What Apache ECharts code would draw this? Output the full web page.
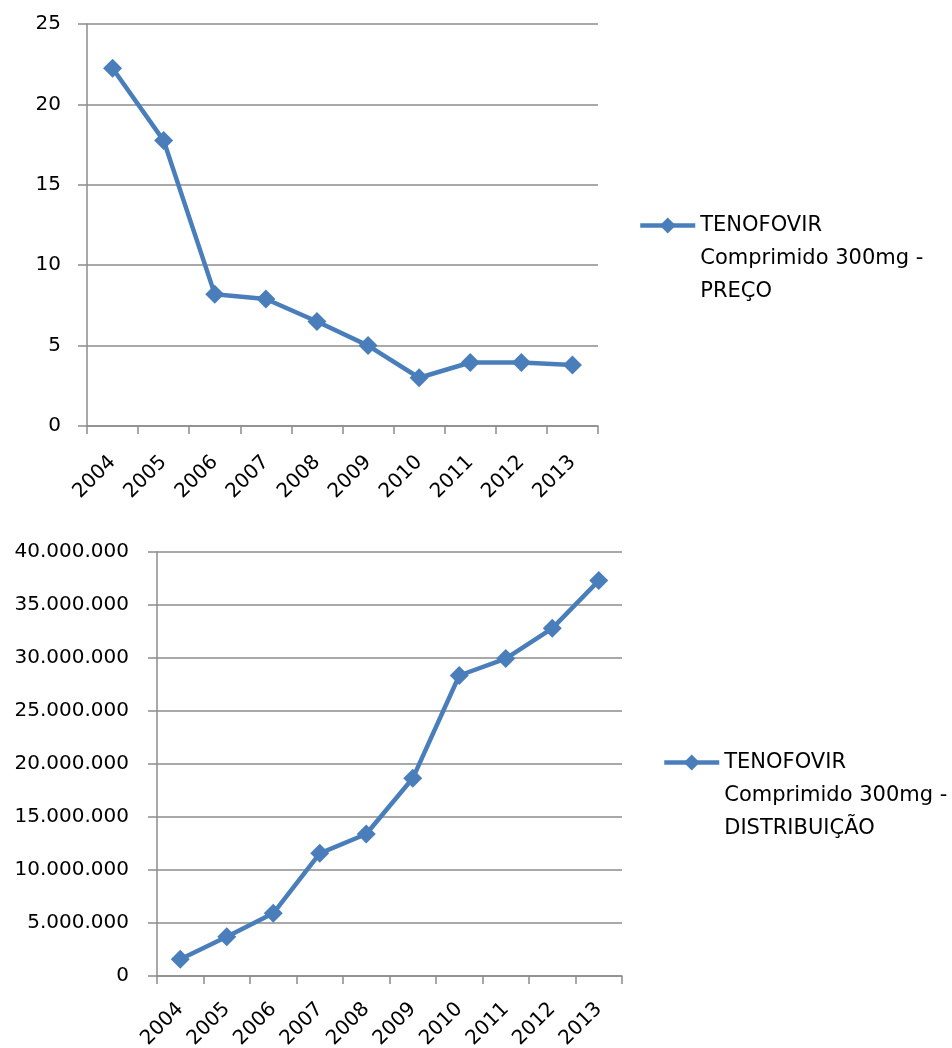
<!DOCTYPE html>
<html>
<head>
<meta charset="utf-8">
<script src="https://cdn.jsdelivr.net/npm/echarts@6/dist/echarts.min.js"></script>
<style>
  html, body { margin: 0; padding: 0; background: #fff; }
  #chart { width: 952px; height: 1048px; }
</style>
</head>
<body>
<div id="chart"></div>
<script>
// anos (eixo x dos dois gráficos)
const years = ['2004', '2005', '2006', '2007', '2008', '2009', '2010', '2011', '2012', '2013']
// preço unitário
const precoValues = [22.25, 17.75, 8.2, 7.9, 6.5, 5.0, 3.0, 3.95, 3.95, 3.8]
// quantidade distribuída
const distribValues = [1580000, 3710000, 5910000, 11570000, 13400000, 18650000, 28350000, 29950000, 32800000, 37300000]
const precoName = 'TENOFOVIR\nComprimido 300mg -\nPREÇO'
const distribName = 'TENOFOVIR\nComprimido 300mg -\nDISTRIBUIÇÃO'

const lineColor = '#4a7ebb'
const gridColor = '#8c8c8c'
const font = 'DejaVu Sans'

function thousands(v) {
  return String(v).replace(/\B(?=(\d{3})+(?!\d))/g, '.')
}

function xAxisFor(gridIndex, margin) {
  return {
    type: 'category',
    gridIndex: gridIndex,
    data: years,
    boundaryGap: true,
    axisLine: { lineStyle: { color: gridColor, width: 1.5 } },
    axisTick: { show: true, length: 8, alignWithLabel: false, lineStyle: { color: gridColor, width: 1.5 } },
    axisLabel: { rotate: 45, margin: margin, color: '#000', fontSize: 20, fontFamily: font, interval: 0 },
    splitLine: { show: false }
  }
}

function yAxisFor(gridIndex, max, interval, fmt, margin) {
  return {
    type: 'value',
    gridIndex: gridIndex,
    min: 0,
    max: max,
    interval: interval,
    axisLine: { show: true, lineStyle: { color: gridColor, width: 1.5 } },
    axisTick: { show: true, length: 9, lineStyle: { color: gridColor, width: 1.5 } },
    axisLabel: { margin: margin, color: '#000', fontSize: 20, fontFamily: font, formatter: fmt },
    splitLine: { show: true, lineStyle: { color: gridColor, width: 1.5 } }
  }
}

// as duas linhas vazias no início deixam o ícone na altura da primeira linha
function legendFor(name, left, top) {
  return {
    data: [name],
    left: left,
    top: top,
    orient: 'vertical',
    padding: 0,
    itemWidth: 55,
    itemHeight: 20,
    selectedMode: false,
    formatter: (n) => '\n\n' + n,
    lineStyle: { color: lineColor, width: 4.5 },
    itemStyle: { color: lineColor },
    textStyle: { fontSize: 21, fontFamily: font, color: '#000', lineHeight: 33 }
  }
}

const chart = echarts.init(document.getElementById('chart'))
chart.setOption({
  animation: false,
  backgroundColor: '#fff',
  grid: [
    { left: 87, top: 24, width: 511, height: 402, outerBoundsMode: 'none' },
    { left: 157, top: 552, width: 465, height: 424, outerBoundsMode: 'none' }
  ],
  legend: [
    legendFor(precoName, 638, 143),
    legendFor(distribName, 662, 680)
  ],
  xAxis: [xAxisFor(0, 33), xAxisFor(1, 30)],
  yAxis: [
    yAxisFor(0, 25, 5, (v) => v, 26),
    yAxisFor(1, 40000000, 5000000, thousands, 28)
  ],
  series: [
    {
      name: precoName,
      type: 'line',
      xAxisIndex: 0,
      yAxisIndex: 0,
      data: precoValues,
      symbol: 'diamond',
      symbolSize: 19,
      itemStyle: { color: lineColor },
      lineStyle: { color: lineColor, width: 4.5 }
    },
    {
      name: distribName,
      type: 'line',
      xAxisIndex: 1,
      yAxisIndex: 1,
      data: distribValues,
      symbol: 'diamond',
      symbolSize: 19,
      itemStyle: { color: lineColor },
      lineStyle: { color: lineColor, width: 4.5 }
    }
  ]
})
</script>
</body>
</html>
